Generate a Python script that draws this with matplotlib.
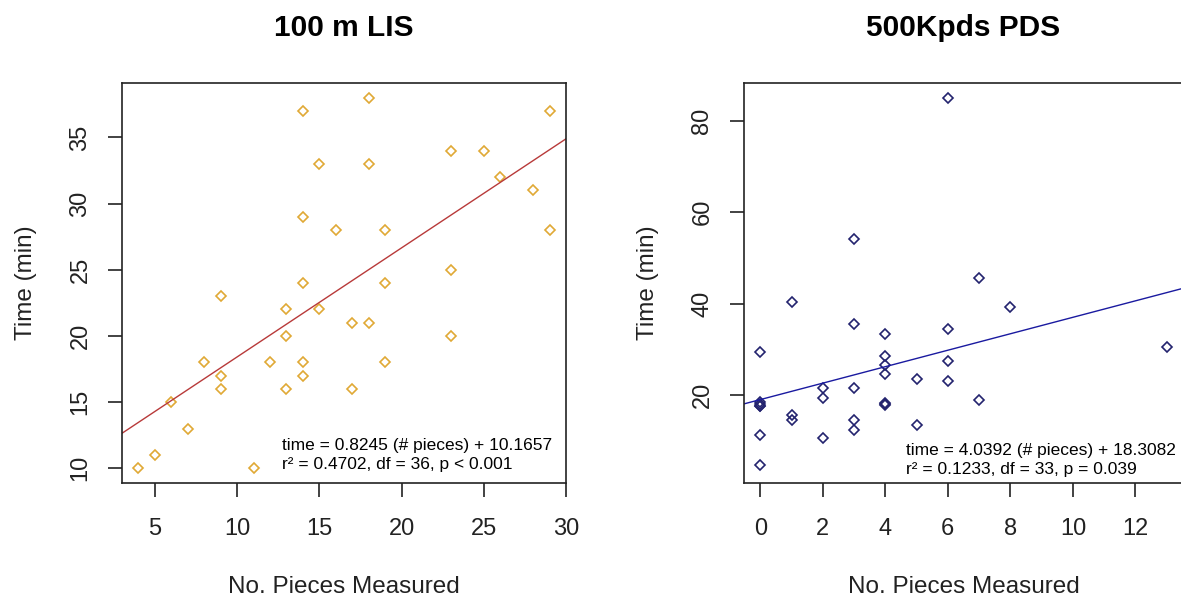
# -*- coding: utf-8 -*-

"""
	plot.py
	Time vs. number of pieces measured, two survey methods, with linear fits.
"""

import matplotlib
matplotlib.use('Agg')
import matplotlib.pyplot as plt

# 100 m LIS
lis_pieces = [14, 18, 29, 15, 18, 23, 25, 26, 28, 14, 16, 19, 29, 23, 14, 19,
              9, 13, 15, 17, 18, 13, 23, 8, 12, 14, 19, 9, 14, 9, 13, 17,
              6, 7, 5, 4, 11]
lis_time = [37, 38, 37, 33, 33, 34, 34, 32, 31, 29, 28, 28, 28, 25, 24, 24,
            23, 22, 22, 21, 21, 20, 20, 18, 18, 18, 18, 17, 17, 16, 16, 16,
            15, 13, 11, 10, 10]
lis_line = (0.8245, 10.1657)   # slope, intercept of drawn line
lis_text = ['time = 0.8245 (# pieces) + 10.1657',
            'r\u00b2 = 0.4702, df = 36, p < 0.001']

# 500Kpds PDS
pds_pieces = [0, 0, 0, 0, 0, 0, 0,
              1, 1, 1,
              2, 2, 2,
              3, 3, 3, 3, 3,
              4, 4, 4, 4, 4, 4, 4,
              5, 5,
              6, 6, 6, 6,
              7, 7,
              8, 13]
pds_time = [29.5, 18.5, 18.0, 17.7, 17.5, 11.3, 4.7,
            40.4, 15.6, 14.5,
            21.5, 19.3, 10.6,
            54.2, 35.5, 21.5, 14.6, 12.4,
            33.3, 28.6, 26.5, 24.6, 18.3, 18.0, 17.8,
            23.5, 13.4,
            85.0, 34.4, 27.4, 23.0,
            45.5, 19.0,
            39.3, 30.5]
pds_line = (1.80, 19.0)   # line as drawn in the figure
pds_text = ['time = 4.0392 (# pieces) + 18.3082',
            'r\u00b2 = 0.1233, df = 33, p = 0.039']

plt.rcParams['font.family'] = ['Liberation Sans', 'DejaVu Sans']

W, H = 1181, 602


def panel(fig, box, x, y, fit, lines, title, pt_col, ln_col, ms,
          xlim, ylim, xticks, yticks, txt_pos):
	l, t, r, b = box
	ax = fig.add_axes([l / W, 1 - b / H, (r - l) / W, (b - t) / H])
	ax.plot(x, y, linestyle='none', marker='D', ms=ms, mfc='none',
	        mec=pt_col, mew=1.2)
	ax.axline((0, fit[1]), slope=fit[0], color=ln_col, lw=1.0)
	ax.set_xlim(xlim)
	ax.set_ylim(ylim)
	ax.set_xticks(xticks)
	ax.set_yticks(yticks)
	for s in ax.spines.values():
		s.set_color('#222222')
		s.set_linewidth(1.2)
	ax.tick_params(direction='out', length=10, width=1.2, color='#222222',
	               labelsize=17, labelcolor='#222222')
	ax.tick_params(axis='x', pad=15)
	ax.tick_params(axis='y', pad=12, labelrotation=90)
	for lab in ax.get_yticklabels():
		lab.set_va('center')
	tx, ty1, ty2 = txt_pos
	ax.text(tx, ty1, lines[0], transform=ax.transAxes, fontsize=12.5,
	        va='center', ha='left')
	ax.text(tx, ty2, lines[1], transform=ax.transAxes, fontsize=12.5,
	        va='center', ha='left')
	cx = (l + r) / 2
	fig.text(cx / W, 1 - 28 / H, title, ha='center', va='center',
	         fontsize=21.5, fontweight='bold')
	fig.text(cx / W, 1 - 587 / H, 'No. Pieces Measured', ha='center',
	         va='center', fontsize=17.5, color='#222222')
	fig.text((l - 96) / W, 1 - ((t + b) / 2) / H, 'Time (min)', ha='center',
	         va='center', rotation=90, fontsize=17.5, color='#222222')
	return ax


def main():
	fig = plt.figure(figsize=(W / 100, H / 100), dpi=100)

	panel(fig, (122, 83, 566, 483), lis_pieces, lis_time, lis_line, lis_text,
	      '100 m LIS', '#E0A935', '#B83A3A', 5.6,
	      (3, 30), (8.88, 39.12), [5, 10, 15, 20, 25, 30],
	      [10, 15, 20, 25, 30, 35], (0.36, 0.093, 0.047))

	panel(fig, (744, 83, 1183, 483), pds_pieces, pds_time, pds_line, pds_text,
	      '500Kpds PDS', '#23236E', '#1A1AA0', 5.0,
	      (-0.52, 13.52), (0.76, 88.24), [0, 2, 4, 6, 8, 10, 12],
	      [20, 40, 60, 80], (0.368, 0.0825, 0.034))

	fig.savefig('out.png', dpi=100)


if __name__ == '__main__':
	main()
